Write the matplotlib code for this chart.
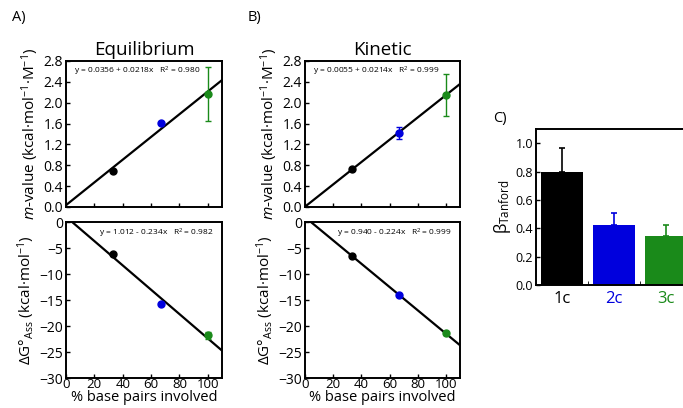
#!/usr/bin/env python3
import matplotlib
matplotlib.use('Agg')
import matplotlib.pyplot as plt
import numpy as np

plt.rcParams['font.family'] = ['Open Sans', 'DejaVu Sans']
plt.rcParams['mathtext.fontset'] = 'custom'
plt.rcParams['mathtext.rm'] = 'Open Sans'
plt.rcParams['mathtext.it'] = 'Open Sans:italic'

## data
pct = [33.3, 66.7, 100.0]
colors = ['black', '#0000dd', '#1a8a1a']

eq_m = [0.70, 1.61, 2.16]
eq_m_err = [0.0, 0.0, 0.52]
eq_dg = [-6.2, -15.8, -21.8]
eq_dg_err = [0.0, 0.0, 0.7]

kin_m = [0.72, 1.42, 2.15]
kin_m_err = [0.0, 0.12, 0.40]
kin_dg = [-6.5, -14.1, -21.4]
kin_dg_err = [0.0, 0.0, 0.3]

fits = {
    'eq_m': (0.0356, 0.0218, 'y = 0.0356 + 0.0218x   R$^2$ = 0.980'),
    'eq_dg': (1.012, -0.234, 'y = 1.012 - 0.234x   R$^2$ = 0.982'),
    'kin_m': (0.0055, 0.0214, 'y = 0.0055 + 0.0214x   R$^2$ = 0.999'),
    'kin_dg': (0.940, -0.224, 'y = 0.940 - 0.224x   R$^2$ = 0.999'),
}

bar_labels = ['1c', '2c', '3c']
beta = [0.80, 0.42, 0.345]
beta_err = [0.165, 0.09, 0.08]

W, H = 683, 408
fig = plt.figure(figsize=(W/100, H/100), dpi=100)

def px_axes(x0, y0, x1, y1):
    return fig.add_axes([x0/W, 1-y1/H, (x1-x0)/W, (y1-y0)/H])

def style(ax):
    for s in ax.spines.values():
        s.set_linewidth(1.4)
    ax.tick_params(direction='in', width=1.0, length=3, labelsize=10, pad=2)

def draw_scatter(ax, y, yerr, fit, top):
    a, b, txt = fit
    xx = np.array([0, 110])
    ax.plot(xx, a + b*xx, color='black', lw=1.6, zorder=2)
    for i in range(3):
        if yerr[i] > 0:
            ax.errorbar(pct[i], y[i], yerr=yerr[i], fmt='o', color=colors[i],
                        ms=5, elinewidth=1.0, capsize=2, capthick=1.0, zorder=3)
        else:
            ax.plot(pct[i], y[i], 'o', color=colors[i], ms=5, zorder=3)
    ax.set_xlim(0, 110)
    ax.set_xticks([0, 20, 40, 60, 80, 100])
    style(ax)
    if top:
        ax.set_ylim(0, 2.8)
        ax.set_yticks(np.arange(0, 2.81, 0.4))
        ax.set_yticklabels(['%.1f' % v for v in np.arange(0, 2.81, 0.4)])
        ax.tick_params(labelbottom=False)
        ax.text(0.05, 0.93, txt, transform=ax.transAxes, fontsize=6,
                ha='left', va='center')
        ax.set_ylabel(r'$m$-value (kcal·mol$^{-1}$·M$^{-1}$)', fontsize=11, labelpad=2)
    else:
        ax.set_ylim(-30, 0)
        ax.set_yticks([0, -5, -10, -15, -20, -25, -30])
        ax.text(0.95, 0.93, txt, transform=ax.transAxes, fontsize=6,
                ha='right', va='center')
        ax.set_ylabel(r'ΔG°$_{\mathrm{Ass}}$ (kcal·mol$^{-1}$)', fontsize=11, labelpad=2)
        ax.tick_params(axis='x', pad=0, labelsize=9.5)
        ax.set_xlabel('% base pairs involved', fontsize=10.5, labelpad=-1)

## panel A
axA1 = px_axes(66, 61, 222, 207)
axA2 = px_axes(66, 222, 222, 378)
draw_scatter(axA1, eq_m, eq_m_err, fits['eq_m'], True)
draw_scatter(axA2, eq_dg, eq_dg_err, fits['eq_dg'], False)
axA1.set_title('Equilibrium', fontsize=13.5, pad=4)

## panel B
axB1 = px_axes(305, 61, 460, 207)
axB2 = px_axes(305, 222, 460, 378)
draw_scatter(axB1, kin_m, kin_m_err, fits['kin_m'], True)
draw_scatter(axB2, kin_dg, kin_dg_err, fits['kin_dg'], False)
axB1.set_title('Kinetic', fontsize=13.5, pad=4)

## panel C (cut off at the right edge, as in the source)
axC = px_axes(536, 129, 692, 285)
xpos = np.arange(3)
axC.bar(xpos, beta, width=0.79, color=colors, zorder=2)
for i in range(3):
    axC.errorbar(xpos[i], beta[i], yerr=[[0], [beta_err[i]]], fmt='none',
                 ecolor=colors[i], elinewidth=1.2, capsize=2, capthick=1.2, zorder=3)
axC.set_xlim(-0.5, 2.5)
axC.set_ylim(0, 1.1)
axC.set_yticks(np.arange(0, 1.01, 0.2))
axC.set_yticklabels(['%.1f' % v for v in np.arange(0, 1.01, 0.2)])
axC.set_xticks(xpos)
axC.set_xticklabels(bar_labels)
for lab, c in zip(axC.get_xticklabels(), colors):
    lab.set_color(c)
axC.set_xticks([0.5, 1.5], minor=True)
style(axC)
axC.tick_params(axis='x', which='major', length=0, pad=4, labelsize=12)
axC.tick_params(axis='x', which='minor', direction='in', length=3)
axC.tick_params(axis='y', labelsize=9)
axC.set_ylabel(r'β$_{\mathrm{Tanford}}$', fontsize=12, labelpad=2)

fig.text(12/W, 1-18/H, 'A)', fontsize=10.5, va='center')
fig.text(248/W, 1-18/H, 'B)', fontsize=10.5, va='center')
fig.text(493/W, 1-118/H, 'C)', fontsize=10.5, va='center')

plt.savefig('out.png', dpi=100)
